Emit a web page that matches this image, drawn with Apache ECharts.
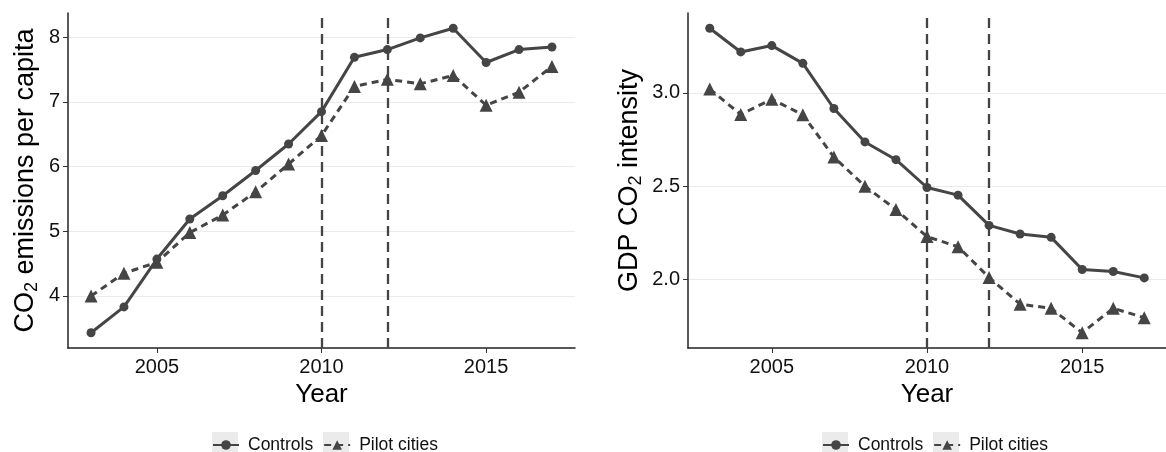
<!DOCTYPE html>
<html>
<head>
<meta charset="utf-8">
<script src="https://cdn.jsdelivr.net/npm/echarts@6/dist/echarts.min.js"></script>
<style>
  html, body { margin: 0; padding: 0; background: #fff; }
  #chart { width: 1166px; height: 452px; }
</style>
</head>
<body>
<div id="chart"></div>
<script>
// data
var years = [2003, 2004, 2005, 2006, 2007, 2008, 2009, 2010, 2011, 2012, 2013, 2014, 2015, 2016, 2017];
var co2Controls = [3.43, 3.83, 4.57, 5.19, 5.55, 5.94, 6.35, 6.85, 7.69, 7.81, 7.99, 8.14, 7.61, 7.81, 7.85];
var co2Pilot = [4.00, 4.35, 4.52, 4.98, 5.25, 5.61, 6.04, 6.48, 7.24, 7.35, 7.28, 7.41, 6.95, 7.15, 7.55];
var gdpControls = [3.346, 3.219, 3.253, 3.158, 2.916, 2.737, 2.642, 2.493, 2.452, 2.290, 2.244, 2.226, 2.054, 2.043, 2.009];
var gdpPilot = [3.020, 2.884, 2.966, 2.882, 2.656, 2.500, 2.375, 2.230, 2.176, 2.011, 1.868, 1.846, 1.715, 1.846, 1.796];
var policyYears = [2010, 2012];
var yearTicks = [2005, 2010, 2015];
var co2Ticks = [4, 5, 6, 7, 8];
var gdpTicks = [2.0, 2.5, 3.0];

var FONT = 'Liberation Sans, Arial, sans-serif';
var INK = '#454545';

function pairs(ys) {
    return years.map(function (y, i) { return [y, ys[i]]; });
}
// ggplot style 5% padding
function padMin(v) { return v.min - 0.05 * (v.max - v.min); }
function padMax(v) { return v.max + 0.05 * (v.max - v.min); }

function xAxisFor(gridIndex) {
    return {
        type: 'value', gridIndex: gridIndex, min: padMin, max: padMax,
        name: 'Year', nameLocation: 'middle', nameGap: 32,
        nameTextStyle: { fontFamily: FONT, fontSize: 26, color: '#000' },
        axisLine: { show: true, onZero: false, lineStyle: { color: '#222', width: 1.5 } },
        axisTick: { show: true, length: 5, customValues: yearTicks, lineStyle: { color: '#333' } },
        axisLabel: {
            customValues: yearTicks, margin: 9, fontFamily: FONT, fontSize: 20, color: '#111',
            formatter: function (v) { return String(v); }
        },
        splitLine: { show: false }
    };
}
function yAxisFor(gridIndex, ticks, name, gap, fmt) {
    return {
        type: 'value', gridIndex: gridIndex, min: padMin, max: padMax,
        name: name, nameLocation: 'middle', nameGap: gap,
        nameTextStyle: {
            fontFamily: FONT, fontSize: 27, color: '#000',
            rich: {
                n: { fontFamily: FONT, fontSize: 27, color: '#000' },
                s: { fontFamily: FONT, fontSize: 18, color: '#000', padding: [12, 0, 0, 0] }
            }
        },
        axisLine: { show: true, onZero: false, lineStyle: { color: '#222', width: 1.5 } },
        axisTick: { show: true, length: 5, customValues: ticks, lineStyle: { color: '#333' } },
        axisLabel: { customValues: ticks, margin: 8, fontFamily: FONT, fontSize: 20, color: '#111', formatter: fmt },
        splitLine: { show: true, lineStyle: { color: '#ebebeb', width: 1 } }
    };
}
function lineSeries(name, idx, values, dashed, withMarks) {
    var s = {
        name: name, type: 'line', xAxisIndex: idx, yAxisIndex: idx,
        data: pairs(values),
        symbol: dashed ? 'triangle' : 'circle',
        symbolSize: dashed ? 13 : 9,
        showAllSymbol: true,
        clip: false,
        itemStyle: { color: INK },
        lineStyle: { color: INK, width: 3, type: dashed ? [7, 5] : 'solid' },
        z: 3
    };
    if (withMarks) {
        s.markLine = {
            silent: true, symbol: ['none', 'none'], label: { show: false },
            lineStyle: { color: '#444', width: 2.3, type: [10, 6] },
            data: policyYears.map(function (y) { return { xAxis: y }; })
        };
    }
    return s;
}
function legendFor(left) {
    return {
        left: left, top: 436, padding: 0, itemWidth: 26, itemHeight: 12, itemGap: 10,
        data: ['Controls', 'Pilot cities'],
        textStyle: { fontFamily: FONT, fontSize: 17.5, color: '#111', padding: [0, 0, 0, 4] },
        selectedMode: false
    };
}

var myChart = echarts.init(document.getElementById('chart'));
var option = {
    backgroundColor: '#fff',
    animation: false,
    grid: [
        { left: 68, top: 13, width: 507, height: 335 },
        { left: 688, top: 13, width: 488, height: 335 }
    ],
    xAxis: [xAxisFor(0), xAxisFor(1)],
    yAxis: [
        yAxisFor(0, co2Ticks, '{n|CO}{s|2}{n| emissions per capita}', 27, function (v) { return String(v); }),
        yAxisFor(1, gdpTicks, '{n|GDP CO}{s|2}{n| intensity}', 43, function (v) { return v.toFixed(1); })
    ],
    legend: [legendFor(212), legendFor(822)],
    graphic: [
        { type: 'rect', left: 212, top: 432, shape: { width: 26, height: 26 }, style: { fill: '#ebebeb' }, z: -1 },
        { type: 'rect', left: 323, top: 432, shape: { width: 26, height: 26 }, style: { fill: '#ebebeb' }, z: -1 },
        { type: 'rect', left: 822, top: 432, shape: { width: 26, height: 26 }, style: { fill: '#ebebeb' }, z: -1 },
        { type: 'rect', left: 933, top: 432, shape: { width: 26, height: 26 }, style: { fill: '#ebebeb' }, z: -1 }
    ],
    series: [
        lineSeries('Controls', 0, co2Controls, false, true),
        lineSeries('Pilot cities', 0, co2Pilot, true, false),
        lineSeries('Controls', 1, gdpControls, false, true),
        lineSeries('Pilot cities', 1, gdpPilot, true, false)
    ]
};
myChart.setOption(option);
</script>
</body>
</html>
